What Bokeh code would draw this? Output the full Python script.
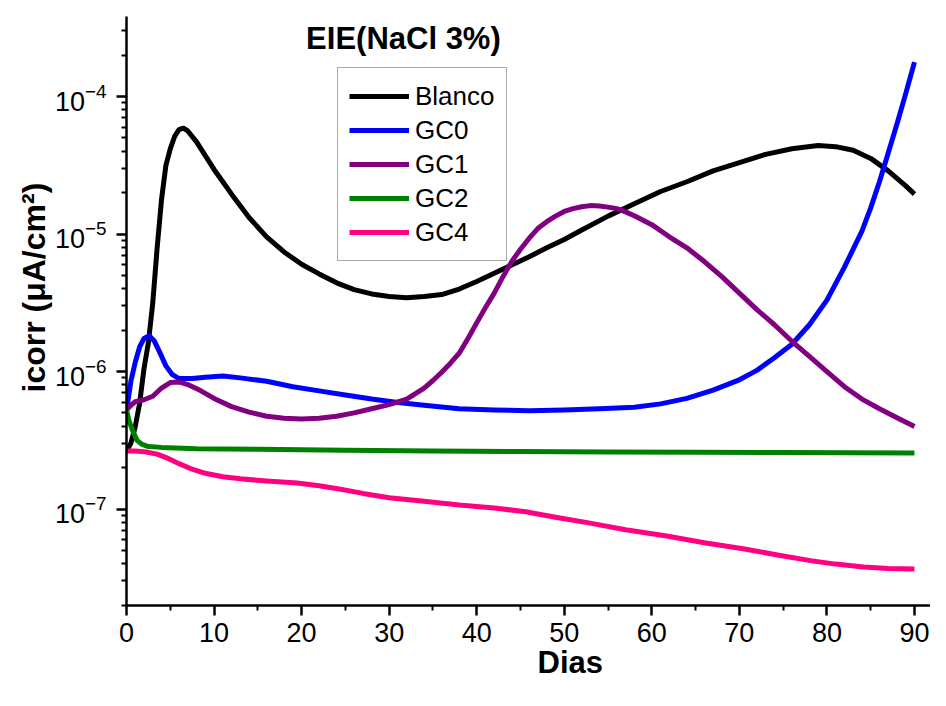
import math
from bokeh.plotting import figure
from bokeh.models import Range1d, FixedTicker, Legend, LegendItem, Label, Title
from bokeh.embed import file_html
from bokeh.resources import INLINE

# ---------------- data ----------------
blanco_x = [0, 0.5, 1, 1.5, 2, 2.5, 3, 3.5, 4, 4.5, 5, 5.5, 6, 6.5, 7, 8, 9, 10, 11, 12,
            14, 16, 18, 20, 22, 24, 26, 28, 30, 32, 34, 36, 38, 40, 42, 44, 46, 48, 50,
            52, 55, 58, 61, 64, 67, 70, 73, 76, 79, 81, 83, 85, 87, 89, 90]
blanco_y = [2.63e-7, 3.02e-7, 3.98e-7, 5.89e-7, 1.05e-6, 1.62e-6, 3.16e-6, 7.94e-6, 1.78e-5,
            3.16e-5, 4.17e-5, 5.13e-5, 5.75e-5, 5.89e-5, 5.62e-5, 4.68e-5, 3.72e-5, 2.95e-5,
            2.40e-5, 1.95e-5, 1.32e-5, 9.55e-6, 7.41e-6, 6.03e-6, 5.13e-6, 4.42e-6, 3.94e-6,
            3.67e-6, 3.51e-6, 3.44e-6, 3.51e-6, 3.63e-6, 3.98e-6, 4.52e-6, 5.19e-6, 5.96e-6,
            6.84e-6, 7.94e-6, 9.12e-6, 1.07e-5, 1.35e-5, 1.66e-5, 2.04e-5, 2.40e-5, 2.88e-5,
            3.31e-5, 3.80e-5, 4.17e-5, 4.40e-5, 4.32e-5, 4.07e-5, 3.55e-5, 2.88e-5, 2.24e-5,
            1.95e-5]

gc0_x = [0, 0.5, 1, 1.5, 2, 2.6, 3.2, 3.8, 4.5, 5.2, 6, 7.5, 9, 11, 13, 16, 19, 22, 25, 28,
         31, 34, 38, 42, 46, 50, 54, 58, 61, 64, 67, 70, 72, 74, 76, 78, 80, 82, 84, 85, 86,
         87, 88, 89, 90]
gc0_y = [5.2e-7, 8.5e-7, 1.17e-6, 1.51e-6, 1.74e-6, 1.82e-6, 1.66e-6, 1.38e-6, 1.10e-6,
         9.55e-7, 8.9e-7, 8.9e-7, 9.1e-7, 9.3e-7, 9.0e-7, 8.5e-7, 7.76e-7, 7.24e-7, 6.76e-7,
         6.31e-7, 5.96e-7, 5.69e-7, 5.37e-7, 5.25e-7, 5.19e-7, 5.25e-7, 5.37e-7, 5.50e-7,
         5.82e-7, 6.38e-7, 7.33e-7, 8.71e-7, 1.02e-6, 1.26e-6, 1.58e-6, 2.19e-6, 3.31e-6,
         5.75e-6, 1.05e-5, 1.55e-5, 2.40e-5, 3.89e-5, 6.31e-5, 1.05e-4, 1.78e-4]

gc1_x = [0, 0.5, 1, 2, 3, 4, 5, 6, 7, 8.5, 10, 12, 14, 16, 18, 20, 22, 24, 26, 28, 30, 32,
         34, 35, 36, 37, 38, 39, 40, 41, 42, 43, 44, 45, 46, 47, 48, 49, 50, 51, 52, 53, 54,
         55, 56, 57, 58, 60, 62, 64, 66, 68, 70, 72, 74, 76, 78, 80, 82, 84, 86, 88, 90]
gc1_y = [5.25e-7, 5.69e-7, 6.03e-7, 6.24e-7, 6.61e-7, 7.59e-7, 8.32e-7, 8.41e-7, 8.04e-7,
         7.24e-7, 6.38e-7, 5.56e-7, 5.07e-7, 4.73e-7, 4.57e-7, 4.52e-7, 4.57e-7, 4.73e-7,
         5.01e-7, 5.37e-7, 5.75e-7, 6.31e-7,
         7.59e-7, 8.61e-7, 9.89e-7, 1.15e-6, 1.36e-6, 1.74e-6, 2.26e-6, 2.92e-6, 3.72e-6,
         4.90e-6, 6.31e-6, 7.76e-6, 9.33e-6, 1.10e-5, 1.23e-5, 1.35e-5, 1.46e-5, 1.53e-5,
         1.58e-5, 1.61e-5, 1.60e-5, 1.57e-5, 1.53e-5, 1.45e-5, 1.36e-5,
         1.17e-5, 9.55e-6, 7.94e-6, 6.31e-6, 4.90e-6, 3.72e-6, 2.82e-6, 2.19e-6, 1.66e-6,
         1.29e-6, 1.0e-6, 7.76e-7, 6.31e-7, 5.37e-7, 4.62e-7, 3.98e-7]

gc2_x = [0, 0.3, 0.7, 1.2, 1.8, 2.5, 4, 8, 15, 25, 35, 45, 55, 65, 75, 90]
gc2_y = [5.25e-7, 4.37e-7, 3.72e-7, 3.16e-7, 2.95e-7, 2.85e-7, 2.81e-7, 2.75e-7, 2.72e-7,
         2.68e-7, 2.64e-7, 2.62e-7, 2.60e-7, 2.59e-7, 2.58e-7, 2.56e-7]

gc4_x = [0, 1, 2.25, 3.5, 4.6, 6, 7.5, 9, 11, 13, 16, 19.5, 22, 24.3, 27, 30, 34, 38, 42,
         45.6, 49, 52.8, 57, 61.7, 66, 70.6, 74.5, 78.3, 81, 84.2, 87, 90]
gc4_y = [2.65e-7, 2.64e-7, 2.60e-7, 2.51e-7, 2.36e-7, 2.14e-7, 1.95e-7, 1.82e-7, 1.72e-7,
         1.66e-7, 1.60e-7, 1.55e-7, 1.48e-7, 1.40e-7, 1.30e-7, 1.21e-7, 1.14e-7, 1.07e-7,
         1.02e-7, 9.55e-8, 8.71e-8, 7.94e-8, 7.08e-8, 6.38e-8, 5.69e-8, 5.13e-8, 4.62e-8,
         4.20e-8, 3.98e-8, 3.79e-8, 3.70e-8, 3.67e-8]

series_names = ["Blanco", "GC0", "GC1", "GC2", "GC4"]
series_colors = ["#000000", "#0000FF", "#800080", "#008000", "#FF0080"]

x_major = [0, 10, 20, 30, 40, 50, 60, 70, 80, 90]
x_minor = [5, 15, 25, 35, 45, 55, 65, 75, 85]
y_major = [1e-7, 1e-6, 1e-5, 1e-4]
y_minor = [m * 10.0 ** e for e in range(-8, -3) for m in range(2, 10)]

title_text = "EIE(NaCl 3%)"
xlabel_text = "Dias"
ylabel_text = "icorr (\u03bcA/cm\u00b2)"

# ---------------- figure ----------------
FONT = "Liberation Sans"
p = figure(width=930, height=690, y_axis_type="log", output_backend="svg",
           toolbar_location=None, title=None,
           x_range=Range1d(0, 91.83), y_range=Range1d(1.99e-8, 3.82e-4),
           min_border_left=126, min_border_right=0, min_border_top=16,
           min_border_bottom=85)
p.outline_line_color = None
p.grid.visible = False
p.background_fill_color = "white"
p.border_fill_color = "white"

p.xaxis.ticker = FixedTicker(ticks=x_major, minor_ticks=x_minor)
p.yaxis.ticker = FixedTicker(ticks=y_major, minor_ticks=y_minor)

for ax in (p.xaxis[0], p.yaxis[0]):
    ax.axis_line_width = 2.5
    ax.axis_line_color = "black"
    ax.major_tick_line_width = 2.5
    ax.minor_tick_line_width = 2
    ax.major_tick_line_color = "black"
    ax.minor_tick_line_color = "black"
    ax.major_tick_out = 10
    ax.major_tick_in = 0
    ax.minor_tick_out = 5
    ax.minor_tick_in = 0
    ax.major_label_text_font = FONT
    ax.major_label_text_font_size = "27px"
    ax.major_label_text_color = "black"
p.xaxis.major_label_standoff = 7
p.yaxis.major_label_standoff = 10

renderers = []
for xs, ys, c in zip([blanco_x, gc0_x, gc1_x, gc2_x, gc4_x],
                     [blanco_y, gc0_y, gc1_y, gc2_y, gc4_y], series_colors):
    r = p.line(xs, ys, line_color=c, line_width=5, line_join="round", line_cap="butt")
    renderers.append(r)

legend = Legend(items=[LegendItem(label=n, renderers=[r]) for n, r in zip(series_names, renderers)],
                location=(211, 344), orientation="vertical")
legend.label_text_font = FONT
legend.label_text_font_size = "26px"
legend.label_text_color = "black"
legend.glyph_width = 60
legend.glyph_height = 34
legend.label_height = 34
legend.label_standoff = 6
legend.spacing = 0
legend.padding = 11
legend.margin = 0
legend.border_line_color = "#555555"
legend.border_line_width = 1.5
legend.background_fill_color = "white"
legend.background_fill_alpha = 1.0
p.add_layout(legend)

p.add_layout(Label(x=31.63, y=2.64e-4, text=title_text, text_font=FONT,
                   text_font_style="bold", text_font_size="31px", text_color="black",
                   text_align="center", text_baseline="middle"))

p.add_layout(Title(text=xlabel_text, align="left", offset=411, vertical_align="top",
                   standoff=0, text_font=FONT, text_font_style="bold",
                   text_font_size="31px", text_color="black"), "below")

p.add_layout(Title(text=ylabel_text, align="left", offset=213, vertical_align="bottom",
                   standoff=0, text_font=FONT, text_font_style="bold",
                   text_font_size="32px", text_color="black"), "left")

open("out.html", "w").write(file_html(p, INLINE))
